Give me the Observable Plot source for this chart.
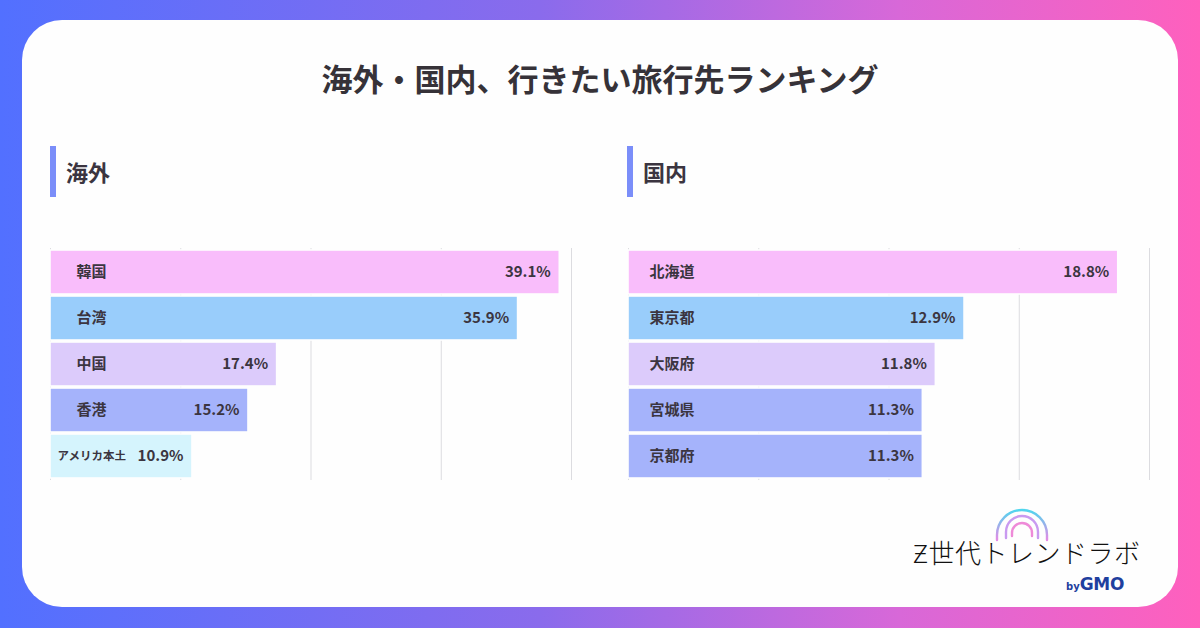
<!DOCTYPE html>
<html lang="ja">
<head>
<meta charset="utf-8">
<script src="https://cdn.jsdelivr.net/npm/d3@7"></script>
<script src="https://cdn.jsdelivr.net/npm/@observablehq/plot@0.6"></script>
<style>
  html, body { margin: 0; padding: 0; }
  body {
    width: 1200px; height: 628px; overflow: hidden;
    font-family: "Noto Sans CJK JP", "Noto Sans", sans-serif;
  }
  #frame {
    position: relative; width: 1200px; height: 628px;
    background: linear-gradient(90deg, #5270ff 0%, #8a6bec 45%, #d868d8 75%, #ff60bd 100%);
  }
  #card {
    position: absolute; left: 22px; top: 20px; width: 1156px; height: 587px;
    background: #fefefe; border-radius: 40px;
  }
  #title {
    position: absolute; left: 0; width: 1200px; top: 56px;
    text-align: center; font-size: 31px; font-weight: 700; color: #363238;
    line-height: 44px;
  }
  .section {
    position: absolute; top: 146px; height: 51px;
    border-left: 6px solid #7b8ef9;
    padding-left: 10px; font-size: 22px; font-weight: 700; color: #3b3540;
    line-height: 51px;
  }
  .panel { position: absolute; top: 247px; }
  #logo { position: absolute; left: 900px; top: 500px; width: 250px; height: 100px; }
  #logo .name {
    position: absolute; left: 13px; top: 33px; font-size: 26px; font-weight: 300;
    color: #111; letter-spacing: 0.5px; white-space: nowrap;
  }
  #logo .by {
    position: absolute; left: 166px; top: 74px; font-family: "DejaVu Sans", sans-serif;
    color: #1f3f9e; white-space: nowrap;
  }
</style>
</head>
<body>
<div id="frame">
  <div id="card"></div>
  <div id="title">海外・国内、行きたい旅行先ランキング</div>
  <div class="section" style="left:50px">海外</div>
  <div class="section" style="left:627px">国内</div>
  <div class="panel" id="overseas" style="left:49px"></div>
  <div class="panel" id="domestic" style="left:627px"></div>
  <div id="logo">
    <svg width="250" height="100" style="position:absolute;left:0;top:0">
      <defs>
        <linearGradient id="arcGrad" x1="0" y1="0" x2="0" y2="1">
          <stop offset="0" stop-color="#4fd6ee"/>
          <stop offset="1" stop-color="#e58ae6"/>
        </linearGradient>
      </defs>
      <g fill="none" stroke-width="2.4" stroke-linecap="round">
        <path d="M97 40 L97 35 A25 25 0 0 1 147 35 L147 40" stroke="url(#arcGrad)"/>
        <path d="M106 38 L106 32 A16 16 0 0 1 138 32 L138 38" stroke="#c99af0"/>
        <path d="M112 36 L112 33 A10 10 0 0 1 132 33 L132 36" stroke="#ee8ad8"/>
      </g>
    </svg>
    <div class="name">Ƶ世代トレンドラボ</div>
    <div class="by"><span style="font-size:10px;font-weight:700">by</span><span style="font-size:17px;font-weight:700;letter-spacing:-0.3px">GMO</span></div>
  </div>
</div>
<script>
// Overseas destinations (percent of respondents)
const overseasNames = ["韓国", "台湾", "中国", "香港", "アメリカ本土"];
const overseasValues = [39.1, 35.9, 17.4, 15.2, 10.9];
const overseasTicks = [0, 10, 20, 30, 40];

// Domestic destinations (percent of respondents)
const domesticNames = ["北海道", "東京都", "大阪府", "宮城県", "京都府"];
const domesticValues = [18.8, 12.9, 11.8, 11.3, 11.3];
const domesticTicks = [0, 5, 10, 15, 20];

// Bar fills by rank
const overseasColors = ["#f9bdfb", "#99cdfb", "#dccbfb", "#a5b3fb", "#d5f4fd"];
const domesticColors = ["#f9bdfb", "#99cdfb", "#dccbfb", "#a5b3fb", "#a5b3fb"];

const textColor = "#3b3540";

function rankingChart(names, values, ticks, colors, xMax, plotWidth, labelDx) {
  const rows = names.map((name, i) => ({name, value: values[i], color: colors[i]}));
  const isLong = d => d.name.length >= 5;
  return Plot.plot({
    width: plotWidth + 12,
    height: 234,
    marginTop: 1, marginBottom: 1, marginLeft: 1, marginRight: 11,
    x: {domain: [0, xMax], range: [1, plotWidth + 1], axis: null},
    y: {domain: names, range: [1, 233], paddingInner: 0.05, paddingOuter: 0, axis: null},
    style: {fontFamily: "'Noto Sans CJK JP', sans-serif", background: "transparent", overflow: "visible"},
    marks: [
      Plot.ruleX(ticks, {x: d => d, stroke: "#dcdce0", strokeWidth: 1}),
      // thin white outline keeps the row gaps clean where neighbouring bars overlap the grid
      Plot.barX(rows, {x1: 0, x2: "value", y: "name", fill: "color", stroke: "#fefefe", strokeWidth: 1.6}),
      Plot.text(rows.filter(d => !isLong(d)), {
        x: 0, y: "name", text: "name", dx: labelDx, textAnchor: "start",
        fill: textColor, fontSize: 15, fontWeight: 700
      }),
      Plot.text(rows.filter(isLong), {
        x: 0, y: "name", text: "name", dx: 7, textAnchor: "start",
        fill: textColor, fontSize: 11.5, fontWeight: 700
      }),
      Plot.text(rows, {
        x: "value", y: "name", text: d => `${d.value.toFixed(1)}%`,
        dx: -9, textAnchor: "end", fill: textColor, fontSize: 15, fontWeight: 700
      })
    ]
  });
}

document.getElementById("overseas").append(
  rankingChart(overseasNames, overseasValues, overseasTicks, overseasColors, 40, 521, 26)
);
document.getElementById("domestic").append(
  rankingChart(domesticNames, domesticValues, domesticTicks, domesticColors, 20, 521, 21)
);
</script>
</body>
</html>
